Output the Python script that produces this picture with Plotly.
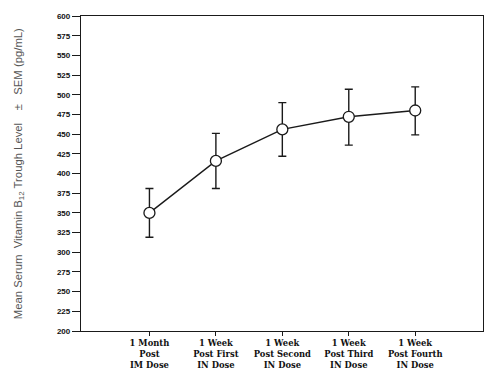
import plotly.graph_objects as go

categories = ["1 Month<br>Post<br>IM Dose",
              "1 Week<br>Post First<br>IN Dose",
              "1 Week<br>Post Second<br>IN Dose",
              "1 Week<br>Post Third<br>IN Dose",
              "1 Week<br>Post Fourth<br>IN Dose"]
means = [350, 416, 456, 472, 480]
sem_upper = [31, 35, 34, 35, 30]
sem_lower = [31, 35, 34, 36, 31]
y_ticks = list(range(200, 601, 25))

fig = go.Figure()
fig.add_trace(go.Scatter(
    x=categories, y=means, mode="lines+markers",
    line=dict(color="#1a1a1a", width=1.4),
    marker=dict(symbol="circle", size=11, color="white",
                line=dict(color="#1a1a1a", width=1.3)),
    error_y=dict(type="data", symmetric=False, array=sem_upper,
                 arrayminus=sem_lower, color="#1a1a1a", thickness=1.4, width=4),
    showlegend=False,
))

fig.update_layout(
    width=488, height=376,
    margin=dict(l=81, r=5, t=16, b=45, autoexpand=False),
    paper_bgcolor="white", plot_bgcolor="white",
    xaxis=dict(type="category", range=[-1.03, 5.02], automargin=False,
               showline=True, linecolor="#1a1a1a", linewidth=1.3, mirror=True,
               ticks="outside", ticklen=4, tickcolor="#1a1a1a",
               showgrid=False, zeroline=False,
               tickfont=dict(family="DejaVu Serif", size=8.4, color="#111", weight="bold")),
    yaxis=dict(range=[200, 600], tickvals=y_ticks, automargin=False,
               showline=True, linecolor="#1a1a1a", linewidth=1.3, mirror=True,
               ticks="outside", ticklen=8, tickcolor="#1a1a1a",
               showgrid=False, zeroline=False,
               tickfont=dict(family="Liberation Sans", size=8, color="#111", weight="bold")),
    annotations=[dict(
        text="Mean Serum  Vitamin B<sub>12</sub> Trough Level    ±   SEM (pg/mL)",
        xref="paper", yref="paper", x=-0.154, y=0.498,
        xanchor="center", yanchor="middle", textangle=-90, showarrow=False,
        font=dict(family="Liberation Sans", size=11.3, color="#555"))],
)

fig.write_html("out.html", config={"displayModeBar": False},
               post_script="document.body.style.margin='0';document.body.style.overflow='hidden';")
